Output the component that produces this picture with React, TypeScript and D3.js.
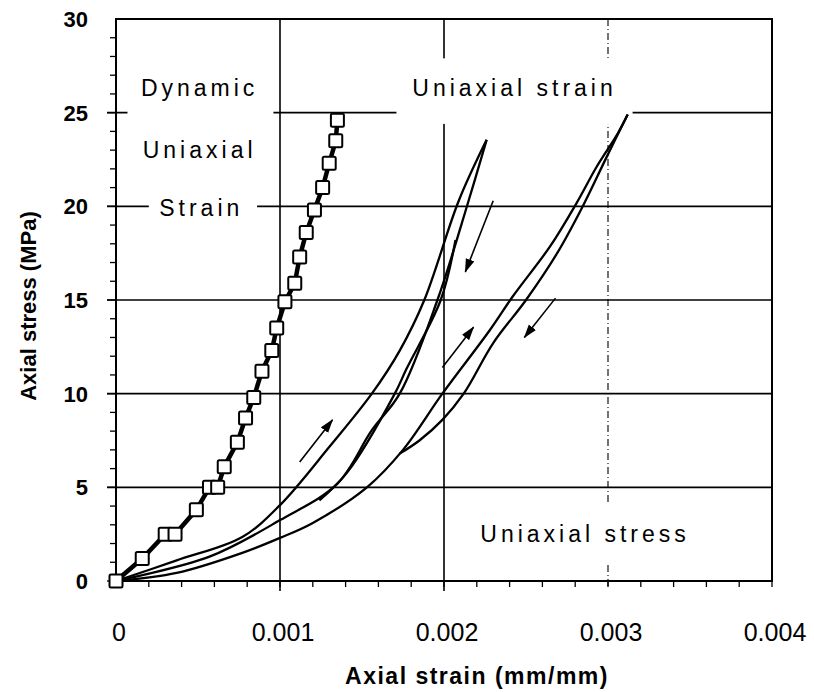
import React, { useEffect, useRef } from 'react';
import * as d3 from 'd3';

// axis ticks
const xTicks = [0, 0.001, 0.002, 0.003, 0.004];
const xTickLabels = ['0', '0.001', '0.002', '0.003', '0.004'];
const yTicks = [0, 5, 10, 15, 20, 25, 30];

// dynamic uniaxial strain test (square markers)
const dynStrain = [0, 0.00016, 0.0003, 0.00036, 0.00049, 0.00057, 0.00062, 0.00066, 0.00074, 0.00079, 0.00084, 0.00089, 0.00095, 0.00098, 0.00103, 0.00109, 0.00112, 0.00116, 0.00121, 0.00126, 0.0013, 0.00134, 0.00135];
const dynStress = [0, 1.2, 2.5, 2.5, 3.8, 5.0, 5.0, 6.1, 7.4, 8.7, 9.8, 11.2, 12.3, 13.5, 14.9, 15.9, 17.3, 18.6, 19.8, 21.0, 22.3, 23.5, 24.6];

// uniaxial strain cycle (lower peak)
const loopALoadStrain = [0, 0.00037, 0.00077, 0.001, 0.0013, 0.00156, 0.00173, 0.00188, 0.00209, 0.00226];
const loopALoadStress = [0, 1.1, 2.35, 4.05, 7.15, 10.0, 12.3, 15.0, 20.3, 23.55];
const loopAUnloadStrain = [0.00226, 0.00215, 0.00196, 0.00173, 0.00156, 0.00135, 0.001, 0.00057, 0];
const loopAUnloadStress = [23.55, 20.3, 15.0, 10.0, 8.05, 5.2, 3.25, 1.3, 0];
const loopARepeatStrain = [0.00124, 0.00141, 0.0017, 0.00177, 0.00198, 0.00207];
const loopARepeatStress = [4.3, 5.8, 10.0, 11.3, 15.0, 18.2];

// uniaxial stress cycle (higher peak)
const loopBLoadStrain = [0, 0.00037, 0.00077, 0.001, 0.0012, 0.00153, 0.00175, 0.00199, 0.00228, 0.00242, 0.00265, 0.00281, 0.00293, 0.00306, 0.00312];
const loopBLoadStress = [0, 0.43, 1.5, 2.3, 3.1, 5.0, 7.0, 10.0, 13.4, 15.2, 17.9, 20.2, 22.1, 23.9, 24.9];
const loopBUnloadStrain = [0.00312, 0.00299, 0.00284, 0.00269, 0.0025, 0.0023, 0.00212, 0.00199, 0.00185, 0.00173];
const loopBUnloadStress = [24.9, 22.6, 19.9, 17.5, 15.0, 12.7, 10.0, 8.6, 7.5, 6.8];

// direction arrows
const arrowFromStrain = [0.00112, 0.0023, 0.00199, 0.00268];
const arrowFromStress = [6.35, 20.3, 11.4, 15.1];
const arrowToStrain = [0.00132, 0.00213, 0.00218, 0.00249];
const arrowToStress = [8.6, 16.5, 13.55, 13.0];

const FONT = "'Liberation Sans', Arial, Helvetica, sans-serif";

const App = () => {
  const svgRef = useRef<SVGSVGElement>(null);

  useEffect(() => {
    if (!svgRef.current) return;
    const svg = d3.select(svgRef.current);
    svg.selectAll('*').remove();

    const width = 814;
    const height = 692;
    const left = 116, right = 772, top = 19, bottom = 581;

    const x = d3.scaleLinear().domain([0, 0.004]).range([left, right]);
    const y = d3.scaleLinear().domain([0, 30]).range([bottom, top]);

    svg.append('rect').attr('width', width).attr('height', height).attr('fill', '#fff');

    // grid
    const grid = svg.append('g').attr('stroke', '#000');
    yTicks.slice(1, -1).forEach(v => {
      grid.append('line')
        .attr('x1', left - 9).attr('x2', right)
        .attr('y1', y(v)).attr('y2', y(v))
        .attr('stroke-width', 1.6);
    });
    [0.001, 0.002].forEach(v => {
      grid.append('line')
        .attr('x1', x(v)).attr('x2', x(v))
        .attr('y1', top).attr('y2', bottom + 10)
        .attr('stroke-width', 1.6);
    });
    grid.append('line')
      .attr('x1', x(0.003)).attr('x2', x(0.003))
      .attr('y1', top).attr('y2', bottom + 6)
      .attr('stroke-width', 1.1)
      .attr('stroke-dasharray', '7,3,1,3');

    // minor ticks
    d3.range(0, 30, 1).forEach(v => {
      grid.append('line')
        .attr('x1', left - (v % 5 === 0 ? 9 : 6)).attr('x2', left)
        .attr('y1', y(v)).attr('y2', y(v))
        .attr('stroke-width', 1.3);
    });
    d3.range(0, 0.0040001, 0.0002).forEach(v => {
      grid.append('line')
        .attr('x1', x(v)).attr('x2', x(v))
        .attr('y1', bottom).attr('y2', bottom + 6)
        .attr('stroke-width', 1.3);
    });

    // frame
    svg.append('rect')
      .attr('x', left).attr('y', top)
      .attr('width', right - left).attr('height', bottom - top)
      .attr('fill', 'none').attr('stroke', '#000').attr('stroke-width', 2);

    // label boxes (mask grid lines behind annotations)
    const boxes = [
      { x0: 0.00007, x1: 0.00096, s0: 24.2, s1: 26.2 },
      { x0: 0.0002, x1: 0.00086, s0: 19.3, s1: 21.0 },
      { x0: 0.00171, x1: 0.00315, s0: 24.4, s1: 27.9 },
      { x0: 0.00209, x1: 0.00367, s0: 0.95, s1: 4.2 },
    ];
    boxes.forEach(b => {
      svg.append('rect')
        .attr('x', x(b.x0)).attr('y', y(b.s1))
        .attr('width', x(b.x1) - x(b.x0)).attr('height', y(b.s0) - y(b.s1))
        .attr('fill', '#fff');
    });

    const label = (tx: number, ty: number, t: string) =>
      svg.append('text')
        .attr('x', tx).attr('y', ty)
        .attr('text-anchor', 'middle')
        .attr('font-family', FONT)
        .attr('font-size', 23)
        .attr('letter-spacing', 4)
        .attr('fill', '#000')
        .text(t);
    label(x(0.00051), y(25.9), 'Dynamic');
    label(x(0.00051), y(22.6), 'Uniaxial');
    label(x(0.00052), y(19.5), 'Strain');
    label(x(0.00243), y(25.9), 'Uniaxial strain');
    label(x(0.00286), y(2.1), 'Uniaxial stress');

    // curves
    const curve = d3.line<[number, number]>()
      .x(d => x(d[0])).y(d => y(d[1]))
      .curve(d3.curveCatmullRom.alpha(0.5));
    const zip = (a: number[], b: number[]) => a.map((v, i) => [v, b[i]] as [number, number]);

    const loops = [
      zip(loopALoadStrain, loopALoadStress),
      zip(loopAUnloadStrain, loopAUnloadStress),
      zip(loopARepeatStrain, loopARepeatStress),
      zip(loopBLoadStrain, loopBLoadStress),
      zip(loopBUnloadStrain, loopBUnloadStress),
    ];
    loops.forEach(pts => {
      svg.append('path')
        .attr('d', curve(pts))
        .attr('fill', 'none')
        .attr('stroke', '#000')
        .attr('stroke-width', 2.3)
        .attr('stroke-linejoin', 'round');
    });

    // arrows
    svg.append('defs').append('marker')
      .attr('id', 'head')
      .attr('viewBox', '0 -5 14 10')
      .attr('refX', 13).attr('refY', 0)
      .attr('markerWidth', 14).attr('markerHeight', 10)
      .attr('markerUnits', 'userSpaceOnUse')
      .attr('orient', 'auto')
      .append('path')
      .attr('d', 'M0,-4.5L14,0L0,4.5Z')
      .attr('fill', '#000');
    arrowFromStrain.forEach((s, i) => {
      svg.append('line')
        .attr('x1', x(s)).attr('y1', y(arrowFromStress[i]))
        .attr('x2', x(arrowToStrain[i])).attr('y2', y(arrowToStress[i]))
        .attr('stroke', '#000').attr('stroke-width', 1.6)
        .attr('marker-end', 'url(#head)');
    });

    // dynamic test
    const dyn = zip(dynStrain, dynStress);
    svg.append('path')
      .attr('d', d3.line<[number, number]>().x(d => x(d[0])).y(d => y(d[1]))(dyn))
      .attr('fill', 'none').attr('stroke', '#000').attr('stroke-width', 4.5);
    svg.selectAll('.sq').data(dyn).enter().append('rect')
      .attr('class', 'sq')
      .attr('x', d => x(d[0]) - 6.5).attr('y', d => y(d[1]) - 6.5)
      .attr('width', 13).attr('height', 13).attr('rx', 1.5)
      .attr('fill', '#fff').attr('stroke', '#000').attr('stroke-width', 2);

    // tick labels
    yTicks.forEach(v => {
      svg.append('text')
        .attr('x', 88).attr('y', y(v)).attr('dy', '0.36em')
        .attr('text-anchor', 'end')
        .attr('font-family', FONT).attr('font-size', 22).attr('font-weight', 'bold')
        .text(String(v));
    });
    xTicks.forEach((v, i) => {
      svg.append('text')
        .attr('x', x(v) + 3).attr('y', 641)
        .attr('text-anchor', 'middle')
        .attr('font-family', FONT).attr('font-size', 25)
        .text(xTickLabels[i]);
    });

    // axis titles
    svg.append('text')
      .attr('x', 477).attr('y', 684)
      .attr('text-anchor', 'middle')
      .attr('font-family', FONT).attr('font-size', 23).attr('font-weight', 'bold')
      .attr('letter-spacing', 1.5)
      .text('Axial strain (mm/mm)');
    svg.append('text')
      .attr('transform', 'translate(36,306) rotate(-90)')
      .attr('text-anchor', 'middle')
      .attr('font-family', FONT).attr('font-size', 22).attr('font-weight', 'bold')
      .text('Axial stress (MPa)');
  }, []);

  return (
    <svg ref={svgRef} width={814} height={692}
      style={{ position: 'absolute', left: 0, top: 0, display: 'block' }} />
  );
};

export default App;
